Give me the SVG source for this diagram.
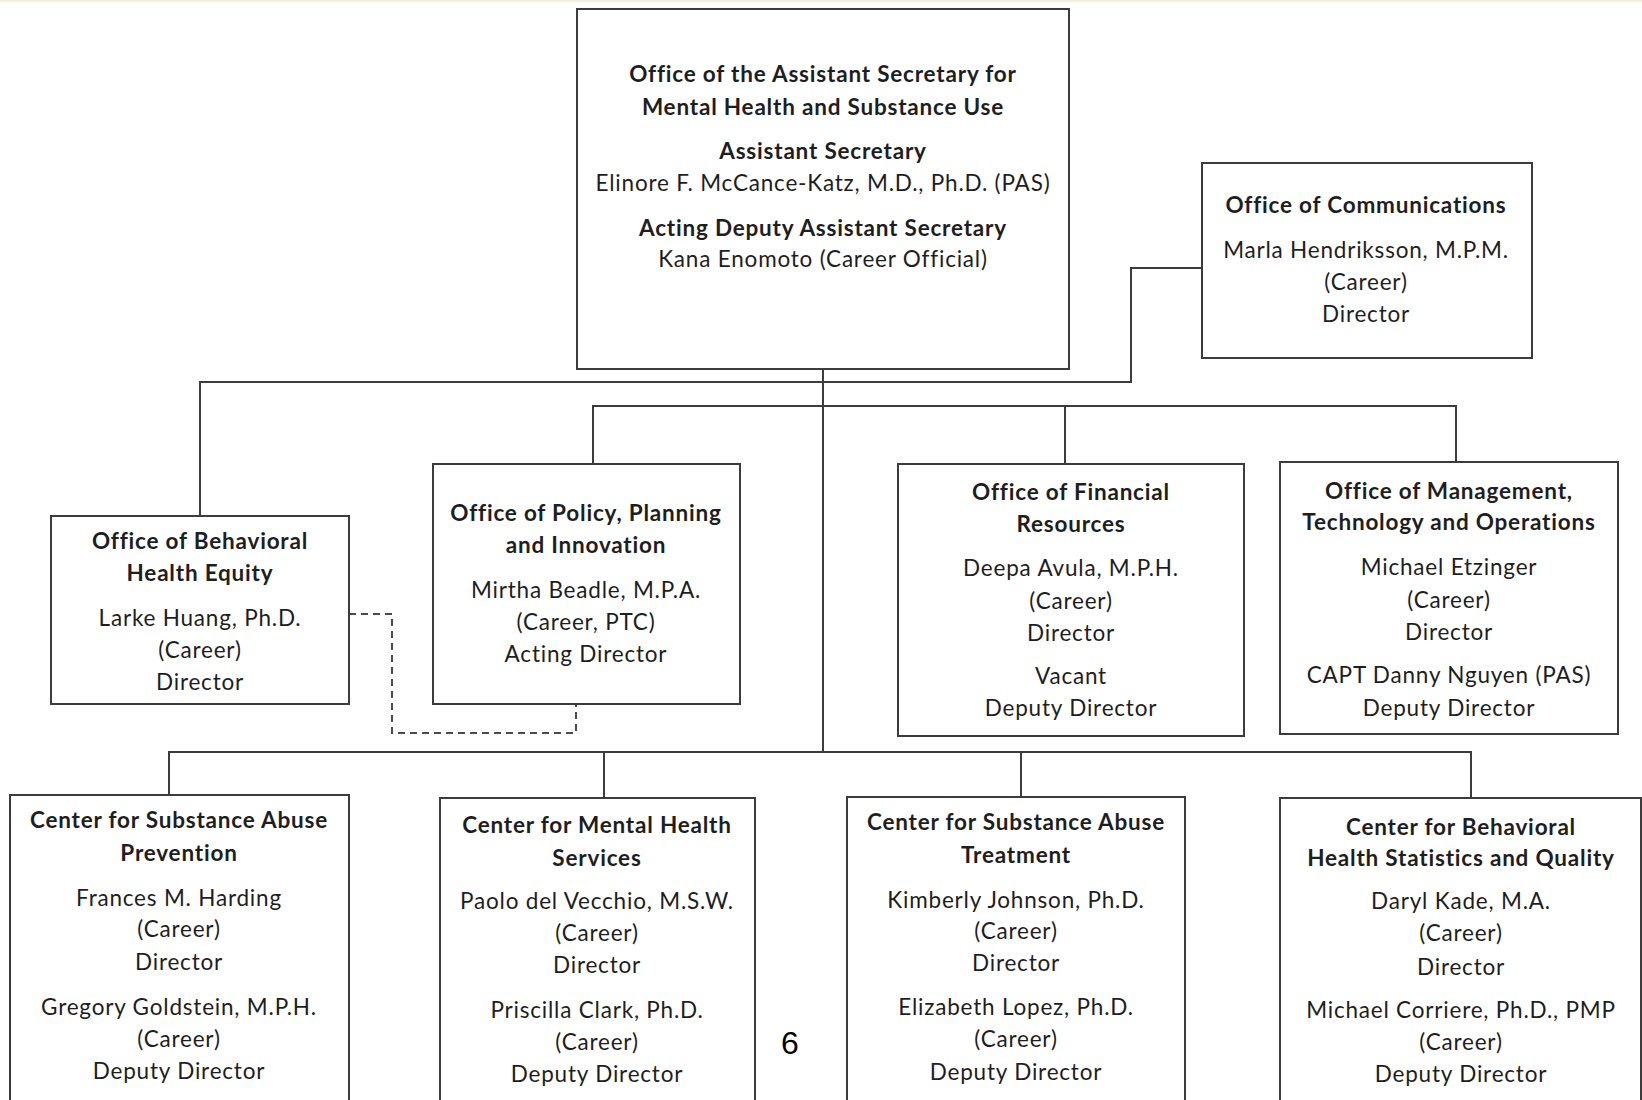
<svg xmlns="http://www.w3.org/2000/svg" width="1642" height="1100" viewBox="0 0 1642 1100">
<style>
.box{fill:#ffffff;stroke:#3c3c3c;stroke-width:2}
.ln{fill:none;stroke:#3c3c3c;stroke-width:2}
.dash{fill:none;stroke:#4a4a4a;stroke-width:2;stroke-dasharray:7,5}
text{font-family:Lato,"Liberation Sans",sans-serif;font-size:22.5px;letter-spacing:0.8px;fill:#1e1e1e;text-anchor:middle}
.b{font-weight:bold}
</style>
<rect x="0" y="0" width="1642" height="1100" fill="#ffffff"/>
<rect x="0" y="0" width="1642" height="2" fill="#f4ecd6"/>
<g id="connectors">
<path class="ln" d="M823,369 V752"/>
<path class="ln" d="M200,516 V382 H1131 V268 H1201"/>
<path class="ln" d="M593,464 V406 H1456 V462 M1065,406 V464"/>
<path class="ln" d="M169,795 V752 H1471 V798 M604,752 V798 M1021,752 V797"/>
<path class="dash" d="M349,614 H392 V733 H576 V704"/>
</g>
<g id="node-top">
<rect class="box" x="577" y="9" width="492" height="360"/>
<text class="b" x="823" y="82">Office of the Assistant Secretary for</text>
<text class="b" x="823" y="115">Mental Health and Substance Use</text>
<text class="b" x="823" y="159">Assistant Secretary</text>
<text x="823" y="191">Elinore F. McCance-Katz, M.D., Ph.D. (PAS)</text>
<text class="b" x="823" y="236">Acting Deputy Assistant Secretary</text>
<text x="823" y="267">Kana Enomoto (Career Official)</text>
</g>
<g id="node-comm">
<rect class="box" x="1202" y="163" width="330" height="195"/>
<text class="b" x="1366" y="213">Office of Communications</text>
<text x="1366" y="258">Marla Hendriksson, M.P.M.</text>
<text x="1366" y="290">(Career)</text>
<text x="1366" y="322">Director</text>
</g>
<g id="node-obhe">
<rect class="box" x="51" y="516" width="298" height="188"/>
<text class="b" x="200" y="549">Office of Behavioral</text>
<text class="b" x="200" y="581">Health Equity</text>
<text x="200" y="626">Larke Huang, Ph.D.</text>
<text x="200" y="658">(Career)</text>
<text x="200" y="690">Director</text>
</g>
<g id="node-oppi">
<rect class="box" x="433" y="464" width="307" height="240"/>
<text class="b" x="586" y="521">Office of Policy, Planning</text>
<text class="b" x="586" y="553">and Innovation</text>
<text x="586" y="598">Mirtha Beadle, M.P.A.</text>
<text x="586" y="630">(Career, PTC)</text>
<text x="586" y="662">Acting Director</text>
</g>
<g id="node-ofr">
<rect class="box" x="898" y="464" width="346" height="272"/>
<text class="b" x="1071" y="500">Office of Financial</text>
<text class="b" x="1071" y="532">Resources</text>
<text x="1071" y="576">Deepa Avula, M.P.H.</text>
<text x="1071" y="609">(Career)</text>
<text x="1071" y="641">Director</text>
<text x="1071" y="684">Vacant</text>
<text x="1071" y="716">Deputy Director</text>
</g>
<g id="node-omto">
<rect class="box" x="1280" y="462" width="338" height="272"/>
<text class="b" x="1449" y="499">Office of Management,</text>
<text class="b" x="1449" y="530">Technology and Operations</text>
<text x="1449" y="575">Michael Etzinger</text>
<text x="1449" y="608">(Career)</text>
<text x="1449" y="640">Director</text>
<text x="1449" y="683">CAPT Danny Nguyen (PAS)</text>
<text x="1449" y="716">Deputy Director</text>
</g>
<g id="node-csap">
<rect class="box" x="10" y="795" width="339" height="320"/>
<text class="b" x="179" y="828">Center for Substance Abuse</text>
<text class="b" x="179" y="861">Prevention</text>
<text x="179" y="906">Frances M. Harding</text>
<text x="179" y="937">(Career)</text>
<text x="179" y="970">Director</text>
<text x="179" y="1015">Gregory Goldstein, M.P.H.</text>
<text x="179" y="1047">(Career)</text>
<text x="179" y="1079">Deputy Director</text>
</g>
<g id="node-cmhs">
<rect class="box" x="440" y="798" width="315" height="320"/>
<text class="b" x="597" y="833">Center for Mental Health</text>
<text class="b" x="597" y="866">Services</text>
<text x="597" y="909">Paolo del Vecchio, M.S.W.</text>
<text x="597" y="941">(Career)</text>
<text x="597" y="973">Director</text>
<text x="597" y="1018">Priscilla Clark, Ph.D.</text>
<text x="597" y="1050">(Career)</text>
<text x="597" y="1082">Deputy Director</text>
</g>
<g id="node-csat">
<rect class="box" x="847" y="797" width="338" height="320"/>
<text class="b" x="1016" y="830">Center for Substance Abuse</text>
<text class="b" x="1016" y="863">Treatment</text>
<text x="1016" y="908">Kimberly Johnson, Ph.D.</text>
<text x="1016" y="939">(Career)</text>
<text x="1016" y="971">Director</text>
<text x="1016" y="1015">Elizabeth Lopez, Ph.D.</text>
<text x="1016" y="1047">(Career)</text>
<text x="1016" y="1080">Deputy Director</text>
</g>
<g id="node-cbhsq">
<rect class="box" x="1280" y="798" width="361" height="320"/>
<text class="b" x="1461" y="835">Center for Behavioral</text>
<text class="b" x="1461" y="866">Health Statistics and Quality</text>
<text x="1461" y="909">Daryl Kade, M.A.</text>
<text x="1461" y="941">(Career)</text>
<text x="1461" y="975">Director</text>
<text x="1461" y="1018">Michael Corriere, Ph.D., PMP</text>
<text x="1461" y="1050">(Career)</text>
<text x="1461" y="1082">Deputy Director</text>
</g>
<text x="790" y="1054" style="font-family:'Liberation Sans',sans-serif;font-size:32px;letter-spacing:0;fill:#000">6</text>
</svg>
